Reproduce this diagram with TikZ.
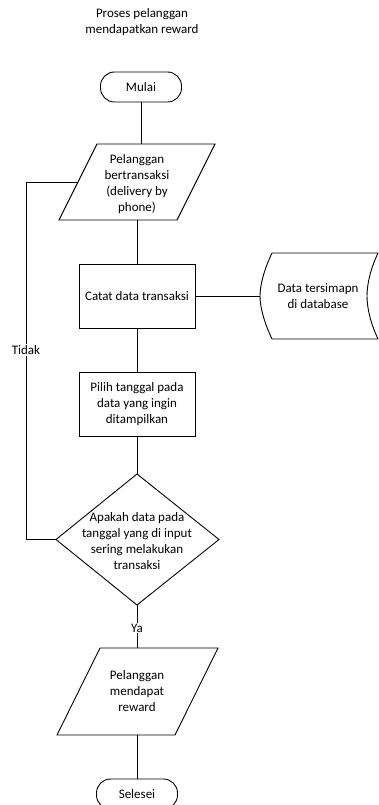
\documentclass[tikz,border=0pt]{standalone}
\usepackage{fontspec}
\setmainfont{Carlito}
\begin{document}
\begin{tikzpicture}[x=1pt,y=-1pt,line width=0.9pt,
  txt/.style={align=center,font=\fontsize{13}{16}\selectfont,inner sep=1pt},
  term/.style={draw,rectangle,rounded corners=14pt,minimum width=81pt,minimum height=30pt,inner sep=0pt,font=\fontsize{13}{16}\selectfont},
  procbox/.style={draw,rectangle,minimum width=116pt,minimum height=64pt,inner sep=0pt,align=center,font=\fontsize{13}{16}\selectfont},
  lbl/.style={fill=white,inner sep=1pt,font=\fontsize{13}{16}\selectfont}]
\useasboundingbox (0,0) rectangle (379,805);
\begin{scope}
\clip (0,0) rectangle (379,805);
% title
\node[txt] (title) at (142,22) {Proses pelanggan\\mendapatkan reward};
% terminals and boxes
\node[term] (mulai) at (141,87) {Mulai};
\node[procbox] (catat) at (137,296) {Catat data transaksi};
\node[procbox] (pilih) at (137,404) {Pilih tanggal pada\\data yang ingin\\ditampilkan};
\node[term] (selesai) at (137,794) {Selesei};
% input/output 1
\draw (97,144) coordinate (p1tl) -- (215,144) -- (177,220) -- (59,220) coordinate (p1bl) -- cycle;
\coordinate (p1n) at (141,144);
\coordinate (p1s) at (137,220);
\coordinate (p1w) at (78,182);
\node[txt] (p1) at (137,184) {Pelanggan\\bertransaksi\\(delivery by\\phone)};
% decision
\draw (137,474) coordinate (decn) -- (219,539.5) coordinate (dece) -- (137,605) coordinate (decs) -- (56,539.5) coordinate (decw) -- cycle;
\node[txt] (dec) at (137,541) {Apakah data pada\\tanggal yang di input\\sering melakukan\\transaksi};
% input/output 2
\draw (100,648) -- (218,648) -- (175,735) -- (57,735) -- cycle;
\coordinate (p2n) at (137,648);
\coordinate (p2s) at (137,735);
\node[txt] (p2) at (137,691) {Pelanggan\\mendapat\\reward};
% stored data
\draw (272,253) -- (378,253) .. controls (370,270) and (367,285) .. (367,296)
  .. controls (367,307) and (370,322) .. (378,339) -- (272,339)
  .. controls (264,322) and (260,307) .. (260,296)
  .. controls (260,285) and (264,270) .. (272,253) -- cycle;
\coordinate (storew) at (260,296);
\node[txt] (store) at (318,296) {Data tersimapn\\di database};
% connectors
\coordinate (lx) at (26,0);
\draw (mulai.south) -- (p1n);
\draw (p1s) -- (catat.north);
\draw (catat.east) -- (storew);
\draw (catat.south) -- (pilih.north);
\draw (pilih.south) -- (decn);
\draw (decw) -| (lx |- p1w) -- (p1w);
\draw (decs) -- (p2n);
\draw (p2s) -- (selesai.north);
% labels
\node[lbl] (tidak) at (26,350) {Tidak};
\node[lbl] (ya) at (137,628) {Ya};
\end{scope}
\end{tikzpicture}
\end{document}
